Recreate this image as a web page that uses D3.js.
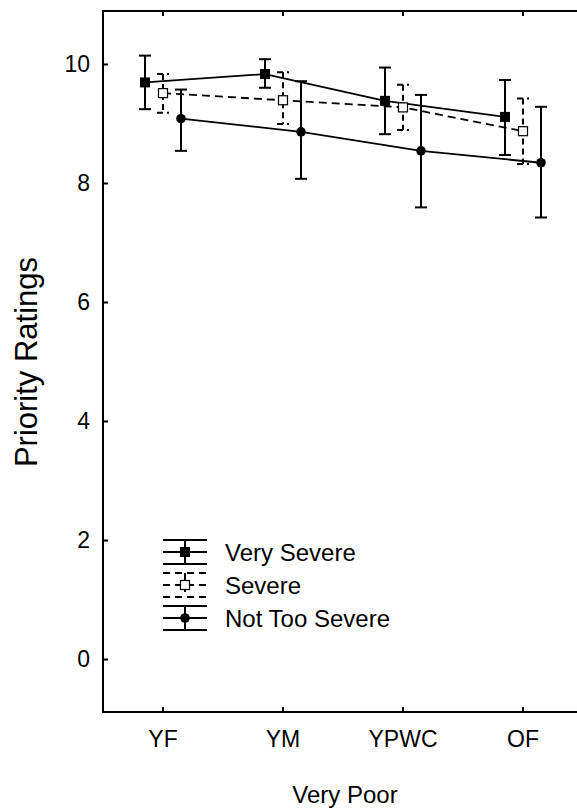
<!DOCTYPE html>
<html>
<head>
<meta charset="utf-8">
<script src="https://cdn.jsdelivr.net/npm/d3@7"></script>
<style>
  body { margin: 0; background: #fff; overflow: hidden; }
  text { font-family: Arial, "Liberation Sans", sans-serif; fill: #000; }
</style>
</head>
<body>
<div id="chart-area"></div>
<script>
// data
const categories = ["YF", "YM", "YPWC", "OF"]
const seriesNames = ["Very Severe", "Severe", "Not Too Severe"]

const verySevereMean = [9.69, 9.83, 9.38, 9.11]
const verySevereHi = [10.14, 10.08, 9.94, 9.73]
const verySevereLo = [9.24, 9.60, 8.82, 8.47]

const severeMean = [9.51, 9.39, 9.27, 8.87]
const severeHi = [9.83, 9.86, 9.65, 9.42]
const severeLo = [9.18, 8.99, 8.89, 8.32]

const notTooMean = [9.08, 8.86, 8.54, 8.34]
const notTooHi = [9.57, 9.71, 9.48, 9.28]
const notTooLo = [8.54, 8.07, 7.59, 7.42]

const yTicks = [0, 2, 4, 6, 8, 10]

const MARGIN = { LEFT: 103, TOP: 11 }
const WIDTH = 480
const HEIGHT = 701

const svg = d3.select("#chart-area").append("svg")
	.attr("width", 577)
	.attr("height", 812)
	.style("display", "block")

const g = svg.append("g")
	.attr("transform", `translate(${MARGIN.LEFT}, ${MARGIN.TOP})`)

// scales
const x = d3.scaleBand().domain(categories).range([0, WIDTH])
const y = d3.scaleLinear().domain([-0.89, 10.89]).range([HEIGHT, 0])
const offset = d3.scalePoint().domain(seriesNames).range([-18, 18])

const cx = (cat, s) => x(cat) + x.bandwidth() / 2 + offset(s)

// axes, ticks pointing inward
g.append("g")
	.attr("transform", `translate(0, ${HEIGHT})`)
	.call(d3.axisBottom(x).tickSize(-5).tickSizeOuter(0).tickPadding(19))
	.call(a => a.select(".domain").remove())
	.selectAll("text").attr("font-size", "23px")

g.append("g")
	.call(d3.axisTop(x).tickSize(-5).tickSizeOuter(0).tickFormat(""))
	.call(a => a.select(".domain").remove())

g.append("g")
	.call(d3.axisLeft(y).tickValues(yTicks).tickSize(-5).tickSizeOuter(0).tickPadding(13))
	.call(a => a.select(".domain").remove())
	.selectAll("text").attr("font-size", "23px")

g.selectAll(".tick line").attr("stroke-width", 2)

// frame (right side falls outside the picture)
g.append("path")
	.attr("d", `M${WIDTH},0H0V${HEIGHT}H${WIDTH}`)
	.attr("fill", "none")
	.attr("stroke", "#000")
	.attr("stroke-width", 2)

// axis labels
svg.append("text")
	.attr("x", 345)
	.attr("y", 803)
	.attr("font-size", "24px")
	.attr("text-anchor", "middle")
	.text("Very Poor")

svg.append("text")
	.attr("transform", "rotate(-90)")
	.attr("x", -362)
	.attr("y", 37)
	.attr("font-size", "31px")
	.attr("text-anchor", "middle")
	.text("Priority Ratings")

const series = [
	{ name: "Very Severe", mean: verySevereMean, hi: verySevereHi, lo: verySevereLo, dash: null, marker: "fsq" },
	{ name: "Severe", mean: severeMean, hi: severeHi, lo: severeLo, dash: "8,5", marker: "osq" },
	{ name: "Not Too Severe", mean: notTooMean, hi: notTooHi, lo: notTooLo, dash: null, marker: "dot" }
]

const CAP = 6
const line = d3.line()

function drawMarker(sel, type, px, py) {
	if (type === "dot") {
		sel.append("circle").attr("cx", px).attr("cy", py).attr("r", 4.8).attr("fill", "#000")
	} else if (type === "fsq") {
		sel.append("rect").attr("x", px - 5).attr("y", py - 5).attr("width", 10).attr("height", 10).attr("fill", "#000")
	} else {
		sel.append("rect").attr("x", px - 4.5).attr("y", py - 4.5).attr("width", 9).attr("height", 9)
			.attr("fill", "#fff").attr("stroke", "#000").attr("stroke-width", 1.2)
	}
}

series.forEach(s => {
	const sg = g.append("g")
	const pts = categories.map((c, i) => [cx(c, s.name), y(s.mean[i])])

	sg.append("path")
		.attr("d", line(pts))
		.attr("fill", "none")
		.attr("stroke", "#000")
		.attr("stroke-width", 1.8)
		.attr("stroke-dasharray", s.dash)

	categories.forEach((c, i) => {
		const px = cx(c, s.name)
		const eb = sg.append("g")
			.attr("stroke", "#000")
			.attr("stroke-width", 2)
			.attr("stroke-dasharray", s.dash ? "6,4" : null)
		eb.append("line").attr("x1", px).attr("x2", px).attr("y1", y(s.hi[i])).attr("y2", y(s.lo[i]))
		eb.append("line").attr("x1", px - CAP).attr("x2", px + CAP).attr("y1", y(s.hi[i])).attr("y2", y(s.hi[i]))
		eb.append("line").attr("x1", px - CAP).attr("x2", px + CAP).attr("y1", y(s.lo[i])).attr("y2", y(s.lo[i]))
	})

	categories.forEach((c, i) => drawMarker(sg, s.marker, cx(c, s.name), y(s.mean[i])))
})

// legend
const legend = svg.append("g").attr("transform", "translate(163, 552)")
series.forEach((s, i) => {
	const lg = legend.append("g").attr("transform", `translate(0, ${i * 33})`)
	const st = lg.append("g")
		.attr("stroke", "#000")
		.attr("stroke-width", 2)
		.attr("stroke-dasharray", s.dash ? "7,5" : null)
	st.append("line").attr("x1", 0).attr("x2", 44).attr("y1", -12).attr("y2", -12)
	st.append("line").attr("x1", 0).attr("x2", 44).attr("y1", 0).attr("y2", 0)
	st.append("line").attr("x1", 0).attr("x2", 44).attr("y1", 12).attr("y2", 12)
	st.append("line").attr("x1", 22).attr("x2", 22).attr("y1", -12).attr("y2", 12)
	drawMarker(lg, s.marker, 22, 0)
	lg.append("text")
		.attr("x", 62)
		.attr("y", 0)
		.attr("dy", "0.36em")
		.attr("font-size", "24px")
		.text(s.name)
})
</script>
</body>
</html>
